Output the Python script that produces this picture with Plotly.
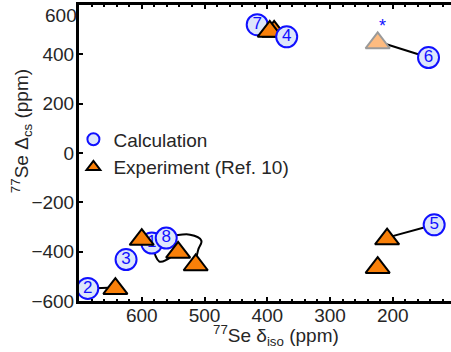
import plotly.graph_objects as go

# ---- data ----
calc_labels = ["1", "2", "3", "4", "5", "6", "7", "8"]
calc_x = [584, 686, 625, 369, 134, 143, 416, 561]
calc_y = [-365, -549, -432, 471, -291, 387, 520, -345]

exp_x = [642, 600, 542, 514, 389, 396, 209, 224]
exp_y = [-550, -351, -403, -454, 493, 493, -349, -465]

alt_exp_x = [224]      # sign-reversed experimental point (*)
alt_exp_y = [446]

# straight connectors calc -> exp  (pairs)
pair_calc = ["2", "5", "6"]
pair_exp = [(642, -545), (209, -343), (224, 452)]

# curved connectors (spline control points)
curve_a_x = [584, 572, 560, 542]
curve_a_y = [-365, -440, -432, -396]
curve_b_x = [560, 523, 505, 510, 514]
curve_b_y = [-343, -331, -355, -392, -440]

x_ticks = [600, 500, 400, 300, 200]
y_ticks = [-600, -400, -200, 0, 200, 400]
y_top_label = "600"

FONT = "Liberation Sans, Arial, Helvetica, sans-serif"
TXT = "#262626"
BLUE = "#1010ff"
CFILL = "#dde6fb"
ORANGE = "#f98009"

fig = go.Figure()

# connectors
for lab, (ex, ey) in zip(pair_calc, pair_exp):
    i = calc_labels.index(lab)
    fig.add_trace(go.Scatter(x=[calc_x[i], ex], y=[calc_y[i], ey], mode="lines",
                             line=dict(color="black", width=2), showlegend=False, hoverinfo="skip"))
fig.add_trace(go.Scatter(x=curve_a_x, y=curve_a_y, mode="lines",
                         line=dict(color="black", width=2, shape="spline", smoothing=1.1),
                         showlegend=False, hoverinfo="skip"))
fig.add_trace(go.Scatter(x=curve_b_x, y=curve_b_y, mode="lines",
                         line=dict(color="black", width=2, shape="spline", smoothing=1.1),
                         showlegend=False, hoverinfo="skip"))

circle_marker = dict(symbol="circle", size=21, color=CFILL, line=dict(color=BLUE, width=2))
front = ["4"]
back_idx = [i for i, l in enumerate(calc_labels) if l not in front]
front_idx = [i for i, l in enumerate(calc_labels) if l in front]

fig.add_trace(go.Scatter(
    x=[calc_x[i] for i in back_idx], y=[calc_y[i] for i in back_idx],
    text=[calc_labels[i] for i in back_idx], mode="markers+text",
    textposition="middle center", textfont=dict(family=FONT, size=17, color=BLUE),
    marker=circle_marker, showlegend=False))

fig.add_trace(go.Scatter(x=alt_exp_x, y=alt_exp_y, mode="markers",
                         marker=dict(symbol="triangle-up", size=21, color="#fdbb80",
                                     line=dict(color="#9a9a9a", width=2)),
                         showlegend=False))
fig.add_trace(go.Scatter(x=exp_x, y=exp_y, mode="markers",
                         marker=dict(symbol="triangle-up", size=21, color=ORANGE,
                                     line=dict(color="black", width=2)),
                         showlegend=False))

fig.add_trace(go.Scatter(
    x=[calc_x[i] for i in front_idx], y=[calc_y[i] for i in front_idx],
    text=[calc_labels[i] for i in front_idx], mode="markers+text",
    textposition="middle center", textfont=dict(family=FONT, size=17, color=BLUE),
    marker=circle_marker, showlegend=False))

# legend entries
fig.add_trace(go.Scatter(x=[None], y=[None], mode="markers", name="Calculation",
                         marker=circle_marker))
fig.add_trace(go.Scatter(x=[None], y=[None], mode="markers", name="Experiment (Ref. 10)",
                         marker=dict(symbol="triangle-up", size=21, color=ORANGE,
                                     line=dict(color="black", width=2))))

fig.add_annotation(x=alt_exp_x[0] - 7, y=alt_exp_y[0] + 67, text="*", showarrow=False,
                   font=dict(family=FONT, size=18, color=BLUE))

# axis titles and the top tick label
fig.add_annotation(xref="paper", yref="paper", x=0.53, y=-0.117, yanchor="middle",
                   text="<sup>77</sup>Se δ<sub>iso</sub> (ppm)", showarrow=False,
                   font=dict(family=FONT, size=19, color=TXT))
fig.add_annotation(xref="paper", yref="paper", x=-0.155, y=0.575, xanchor="center",
                   yanchor="middle",
                   textangle=-90, text="<sup>77</sup>Se Δ<sub>cs</sub> (ppm)", showarrow=False,
                   font=dict(family=FONT, size=19, color=TXT))
fig.add_annotation(xref="paper", yref="paper", x=0.0, y=0.966, xanchor="right",
                   yanchor="middle", text=y_top_label, showarrow=False,
                   font=dict(family=FONT, size=19, color=TXT))

fig.update_layout(
    width=451, height=352,
    margin=dict(l=79, r=0, t=5, b=51),
    paper_bgcolor="white", plot_bgcolor="white",
    font=dict(family=FONT, size=19, color=TXT),
    legend=dict(x=-0.015, y=0.61, xanchor="left", yanchor="top",
                bgcolor="rgba(0,0,0,0)", itemsizing="constant",
                font=dict(family=FONT, size=19, color=TXT), tracegroupgap=0),
    showlegend=True,
)
fig.update_xaxes(range=[700, 700 - 372 / 0.6275], tickvals=x_ticks, ticks="inside",
                 ticklen=4, tickwidth=2, tickcolor="black", ticklabelstandoff=-5,
                 minor=dict(dtick=20, ticks="inside", ticklen=2, tickwidth=1.5, tickcolor="black"),
                 showline=True, linecolor="black", linewidth=3, mirror="ticks",
                 showgrid=False, zeroline=False, tickfont=dict(size=19, color=TXT))
fig.update_yaxes(range=[-600, 600], tickvals=y_ticks, ticks="inside",
                 ticklen=4, tickwidth=2, tickcolor="black", ticklabelstandoff=-2,
                 showline=True, linecolor="black", linewidth=3, mirror=False,
                 showgrid=False, zeroline=False, tickfont=dict(size=19, color=TXT))

fig.write_html("out.html")
